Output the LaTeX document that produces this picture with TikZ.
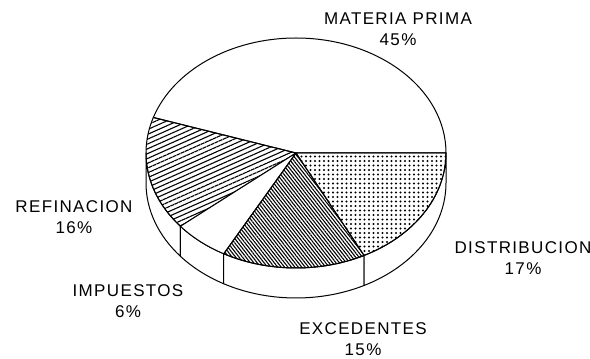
\documentclass[tikz,border=0pt]{standalone}
\usepackage{fontspec}
\newfontfamily\lab[LetterSpace=8]{Liberation Sans}
\usetikzlibrary{patterns.meta,calc}
\tikzset{
  slice/.style={draw=black, line width=1pt, line join=round},
  wall/.style={draw=black, fill=white, line width=1pt, line join=round},
  lbl/.style={align=center, font=\lab\fontsize{17}{21}\selectfont, inner sep=0pt}
}
\begin{document}
\begin{tikzpicture}[x=1pt,y=1pt]
\useasboundingbox (0,0) rectangle (590,359);
\def\rx{150}\def\ry{115}\def\dz{30}
\coordinate (C) at (296,206);
% side walls (front half)
\foreach \a/\b in {180/219.6, 219.6/241.2, 241.2/297, 297/360}{
  \draw[wall] ($(C)+(\a:\rx pt and \ry pt)$) arc[start angle=\a, end angle=\b, x radius=\rx, y radius=\ry]
    -- ++(0,-\dz) arc[start angle=\b, end angle=\a, x radius=\rx, y radius=\ry] -- cycle;
}
% top slices
\path[slice, fill=white] (C) -- ++(0:\rx pt and \ry pt) arc[start angle=0, end angle=162, x radius=\rx, y radius=\ry] -- cycle;
\path[slice, pattern={Lines[angle=24, distance=4.4pt, line width=1.1pt]}] (C) -- ++(162:\rx pt and \ry pt) arc[start angle=162, end angle=219.6, x radius=\rx, y radius=\ry] -- cycle;
\path[slice, fill=white] (C) -- ++(219.6:\rx pt and \ry pt) arc[start angle=219.6, end angle=241.2, x radius=\rx, y radius=\ry] -- cycle;
\path[slice, pattern={Lines[angle=-52, distance=2.7pt, line width=1.1pt]}] (C) -- ++(241.2:\rx pt and \ry pt) arc[start angle=241.2, end angle=297, x radius=\rx, y radius=\ry] -- cycle;
\path[slice, pattern={Dots[radius=1.15pt, distance=4.5pt]}] (C) -- ++(297:\rx pt and \ry pt) arc[start angle=297, end angle=360, x radius=\rx, y radius=\ry] -- cycle;
% labels
\node[lbl] (mp) at (398,329.5) {MATERIA PRIMA\\45\%};
\node[lbl] (rf) at (74,141.5) {REFINACION\\16\%};
\node[lbl] (im) at (128,58) {IMPUESTOS\\6\%};
\node[lbl] (di) at (523,100.5) {DISTRIBUCION\\17\%};
\node[lbl] (ex) at (363,20) {EXCEDENTES\\15\%};
\end{tikzpicture}
\end{document}
